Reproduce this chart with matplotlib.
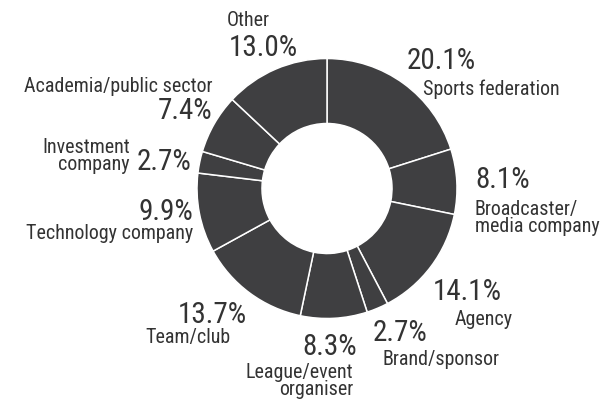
import matplotlib
matplotlib.use('Agg')
import matplotlib.pyplot as plt
from matplotlib import font_manager

# shares in %, clockwise from 12 o'clock
categories = ['Sports federation', 'Broadcaster/\nmedia company', 'Agency', 'Brand/sponsor',
              'League/event\norganiser', 'Team/club', 'Technology company',
              'Investment\ncompany', 'Academia/public sector', 'Other']
shares = [20.1, 8.1, 14.1, 2.7, 8.3, 13.7, 9.9, 2.7, 7.4, 13.0]

W, H = 606, 402
wedge_color = '#3f3f41'
text_color = '#333333'

# narrow sans close to Helvetica Condensed
names = {f.name for f in font_manager.fontManager.ttflist}
font = 'Liberation Sans'
for cand in ['Roboto Condensed', 'Archivo Narrow', 'PT Sans Narrow', 'Liberation Sans Narrow',
             'Barlow Semi Condensed', 'Asap Condensed']:
    if cand in names:
        font = cand
        break
num_size, lab_size = 21, 14.4
plt.rcParams['font.family'] = [font, 'DejaVu Sans']

fig = plt.figure(figsize=(W / 100, H / 100), dpi=100)
# donut centre at (327, 189.5) px from top-left, radius 130 px
cx, cy, r = 327, 189.5, 130
ax = fig.add_axes([(cx - r) / W, (H - cy - r) / H, 2 * r / W, 2 * r / H])
ax.pie(shares, startangle=90, counterclock=False, colors=[wedge_color] * len(shares),
       wedgeprops=dict(width=0.5, edgecolor='white', linewidth=1.1))
ax.set_xlim(-1, 1)
ax.set_ylim(-1, 1)
ax.set_aspect('equal')
ax.axis('off')

# label layout: (x px, baseline px, ha) for percentage and for name
pct_pos = [(407, 69, 'left'), (475, 188, 'left'), (433, 300, 'left'), (373, 341, 'left'),
           (357, 355, 'right'), (247, 323, 'right'), (193, 220, 'right'),
           (137, 170, 'left'), (212, 119, 'right'), (229, 56, 'left')]
name_pos = [(423, 95, 'left'), (475, 215, 'left'), (455, 325, 'left'), (382, 365, 'left'),
            (353, 378, 'right'), (231, 343, 'right'), (193, 239, 'right'),
            (130, 153, 'right'), (212, 92, 'right'), (227, 26, 'left')]


def put(x, y, s, ha, size):
    fig.text(x / W, 1 - y / H, s, ha=ha, va='baseline', fontsize=size,
             color=text_color)


for v, (px, py, pha) in zip(shares, pct_pos):
    put(px, py, f'{v:.1f}%', pha, num_size)

for name, (nx, ny, nha) in zip(categories, name_pos):
    for i, line in enumerate(name.split('\n')):
        put(nx, ny + i * 17.5, line, nha, lab_size)

fig.savefig('out.png', dpi=100, facecolor='white')
